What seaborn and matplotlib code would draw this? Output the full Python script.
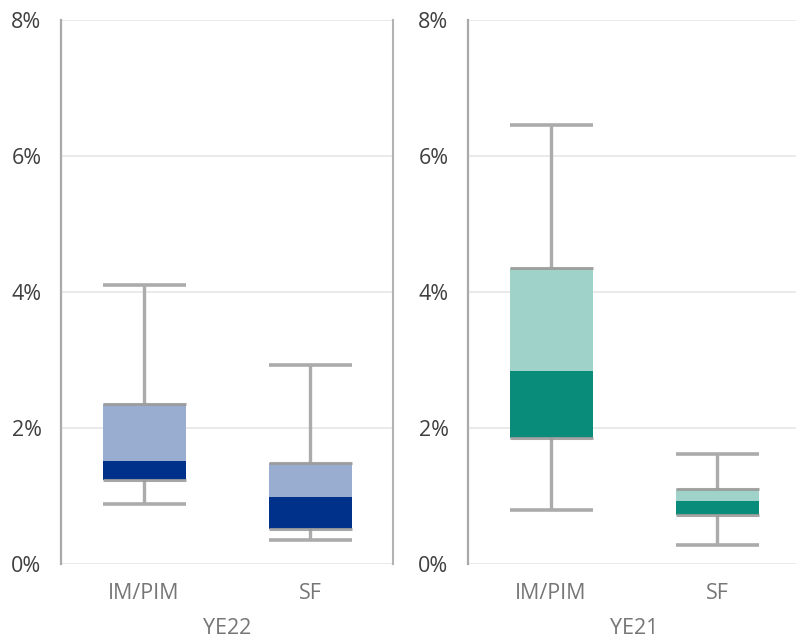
import matplotlib
matplotlib.use("Agg")
import matplotlib.pyplot as plt
import pandas as pd
import seaborn as sns
from matplotlib.ticker import FuncFormatter, FixedLocator

# Box statistics (in %) per fund type and year-end
categories = ["IM/PIM", "SF"]
panels = ["YE22", "YE21"]

ye22_min = [0.88, 0.35]
ye22_q1 = [1.23, 0.52]
ye22_median = [1.51, 0.98]
ye22_q3 = [2.35, 1.48]
ye22_max = [4.10, 2.93]

ye21_min = [0.79, 0.28]
ye21_q1 = [1.85, 0.72]
ye21_median = [2.84, 0.93]
ye21_q3 = [4.36, 1.11]
ye21_max = [6.45, 1.62]

yticks = [0, 2, 4, 6, 8]

dark_colors = {"YE22": "#00318a", "YE21": "#0a8c7a"}
light_colors = {"YE22": "#98add0", "YE21": "#9fd3ca"}

stats = {
    "YE22": (ye22_min, ye22_q1, ye22_median, ye22_q3, ye22_max),
    "YE21": (ye21_min, ye21_q1, ye21_median, ye21_q3, ye21_max),
}

sns.set_theme(style="white")
plt.rcParams["font.family"] = ["Open Sans", "DejaVu Sans"]

fig = plt.figure(figsize=(7.96, 6.42), dpi=100)
axes_rects = [
    [61 / 796, 78 / 642, 332 / 796, 544 / 642],
    [468 / 796, 78 / 642, 332 / 796, 544 / 642],
]

whisker_color = "#ababab"
quart_color = "#9c9c9c"
box_width = 0.5

for rect, panel in zip(axes_rects, panels):
    ax = fig.add_axes(rect)
    lo, q1, med, q3, hi = stats[panel]
    df = pd.DataFrame({
        "category": categories,
        "lower": [m - a for m, a in zip(med, q1)],
        "upper": [b - m for b, m in zip(q3, med)],
        "q1": q1,
        "median": med,
    })
    xs0 = [i - box_width / 2 for i in range(len(categories))]
    xs1 = [i + box_width / 2 for i in range(len(categories))]

    # whiskers and caps behind the boxes
    ax.vlines(range(len(categories)), lo, hi, color=whisker_color, lw=2.4, zorder=2)
    ax.hlines(lo, xs0, xs1, color=whisker_color, lw=2.6, zorder=2)
    ax.hlines(hi, xs0, xs1, color=whisker_color, lw=2.6, zorder=2)

    # two-tone box: Q1 -> median (dark), median -> Q3 (light)
    sns.barplot(data=df, x="category", y="lower", bottom=df["q1"].to_numpy(),
                color=dark_colors[panel], saturation=1, width=box_width,
                linewidth=0, ax=ax, zorder=3)
    sns.barplot(data=df, x="category", y="upper", bottom=df["median"].to_numpy(),
                color=light_colors[panel], saturation=1, width=box_width,
                linewidth=0, ax=ax, zorder=3)

    # quartile edges
    ax.hlines(q1, xs0, xs1, color=quart_color, lw=2.2, alpha=0.9, zorder=4)
    ax.hlines(q3, xs0, xs1, color=quart_color, lw=2.2, alpha=0.9, zorder=4)

    ax.set_xlim(-0.5, 1.5)
    ax.set_ylim(0, 8)
    ax.yaxis.set_major_locator(FixedLocator(yticks))
    ax.yaxis.set_major_formatter(FuncFormatter(lambda v, p: f"{v:.0f}%"))
    ax.grid(axis="y", color="#e6e6e6", lw=1.2, zorder=0)
    ax.set_axisbelow(True)

    for side in ["top", "bottom"]:
        ax.spines[side].set_visible(False)
    ax.spines["left"].set_color("#a9a9a9")
    ax.spines["left"].set_linewidth(1.6)
    ax.spines["right"].set_color("#b3b3b3")
    ax.spines["right"].set_linewidth(1.5)

    ax.tick_params(axis="y", length=0, pad=14, labelsize=15.5, labelcolor="#404040")
    ax.tick_params(axis="x", length=0, pad=14, labelsize=15.5, labelcolor="#767676")
    ax.set_ylabel("")
    ax.set_xlabel(panel, fontsize=15.5, color="#767676", labelpad=10)

fig.savefig("out.png", dpi=100)
